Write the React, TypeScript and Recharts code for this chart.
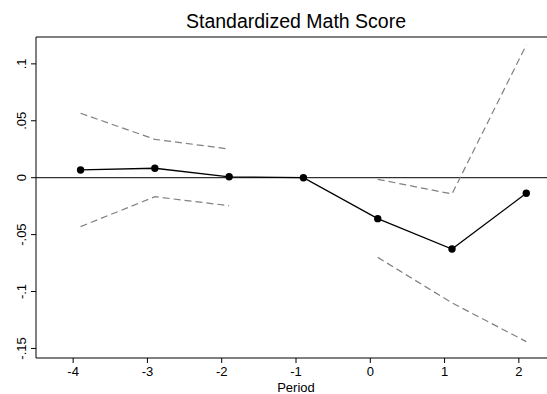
import { LineChart, Line, XAxis, YAxis, ReferenceLine } from 'recharts';

// period positions are drawn shifted by 0.1, as in the source figure
const PERIODS = [-3.9, -2.9, -1.9, -0.9, 0.1, 1.1, 2.1];
const ESTIMATES = [0.0068, 0.0083, 0.0008, 0, -0.036, -0.0627, -0.0137];
const UPPER = [0.0566, 0.0337, 0.0252, null, -0.0014, -0.0143, 0.1166];
const LOWER = [-0.043, -0.0167, -0.0246, null, -0.07, -0.11, -0.144];

const X_TICKS = [-4, -3, -2, -1, 0, 1, 2];
const Y_TICKS = [-0.15, -0.1, -0.05, 0, 0.05, 0.1];
const Y_LABELS = ['-.15', '-.1', '-.05', '0', '.05', '.1'];

const Y_MIN = -0.1584;
const Y_MAX = 0.1236;

const data = PERIODS.map((p, i) => ({
  period: p,
  est: ESTIMATES[i],
  hi: UPPER[i],
  lo: LOWER[i],
}));

const FONT = 'Arial, "Liberation Sans", sans-serif';

function YTick(props: any) {
  const { y, payload } = props;
  const idx = Y_TICKS.indexOf(payload.value);
  const x = 26.5;
  return (
    <text
      x={x}
      y={y}
      transform={`rotate(-90, ${x}, ${y})`}
      textAnchor="middle"
      fontSize={13}
      fontFamily={FONT}
      fill="#000"
    >
      {idx >= 0 ? Y_LABELS[idx] : payload.value}
    </text>
  );
}

export default function App() {
  return (
    <div style={{ position: 'absolute', left: 0, top: 0, width: 547, height: 394, overflow: 'hidden', background: '#fff' }}>
      <div
        style={{
          position: 'absolute',
          left: 36,
          top: 11,
          width: 520,
          textAlign: 'center',
          fontFamily: FONT,
          fontSize: 19.5,
          lineHeight: '20px',
          color: '#000',
        }}
      >
        Standardized Math Score
      </div>
      <LineChart width={556} height={394} data={data} margin={{ top: 37, right: 0, bottom: 0, left: 0 }}>
        <XAxis
          dataKey="period"
          type="number"
          domain={[-4.5, 2.5]}
          ticks={X_TICKS}
          height={36}
          tickSize={5}
          tickMargin={4}
          stroke="#000"
          tick={{ fill: '#000', fontSize: 13, fontFamily: FONT }}
          label={{ value: 'Period', position: 'insideBottom', offset: 2, fill: '#000', fontSize: 13, fontFamily: FONT }}
        />
        <YAxis
          type="number"
          domain={[Y_MIN, Y_MAX]}
          allowDataOverflow
          ticks={Y_TICKS}
          width={36}
          tickSize={5}
          stroke="#000"
          tick={<YTick />}
        />
        <ReferenceLine y={Y_MAX} stroke="#555" strokeWidth={1.5} />
        <ReferenceLine y={0} stroke="#000" strokeWidth={1} />
        <Line
          dataKey="hi"
          stroke="#808080"
          strokeWidth={1.2}
          strokeDasharray="7 4"
          dot={false}
          connectNulls={false}
          isAnimationActive={false}
        />
        <Line
          dataKey="lo"
          stroke="#808080"
          strokeWidth={1.2}
          strokeDasharray="7 4"
          dot={false}
          connectNulls={false}
          isAnimationActive={false}
        />
        <Line
          dataKey="est"
          stroke="#000"
          strokeWidth={1.3}
          dot={{ r: 3.7, fill: '#000', stroke: '#000', strokeWidth: 0 }}
          activeDot={false}
          isAnimationActive={false}
        />
      </LineChart>
    </div>
  );
}
